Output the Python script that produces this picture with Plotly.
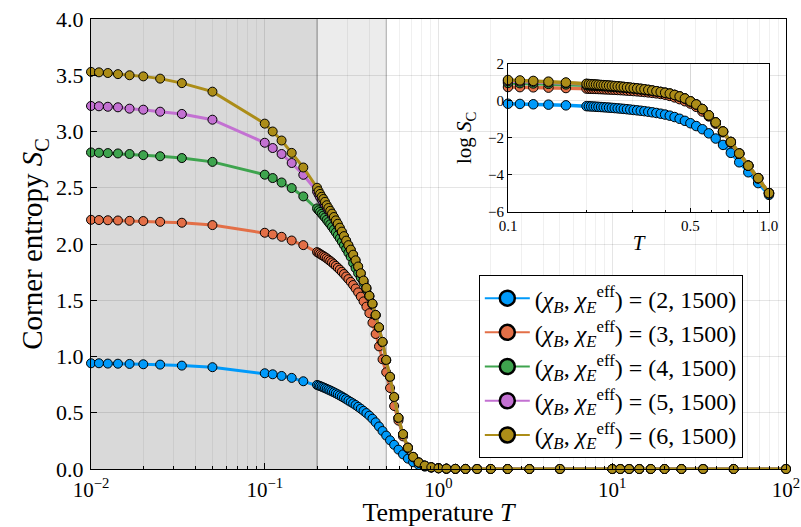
import numpy as np
import plotly.graph_objects as go

# ---------------- data ----------------
T = [0.01, 0.01111, 0.0125, 0.01429, 0.01667, 0.02, 0.025, 0.03333, 0.05,
     0.1, 0.1111, 0.125, 0.1429, 0.1667,
     0.2, 0.2041, 0.2083, 0.2128, 0.2174, 0.2222, 0.2273, 0.2326, 0.2381, 0.2439,
     0.25, 0.2564, 0.2632, 0.2703, 0.2778, 0.2857, 0.2941, 0.3030, 0.3125, 0.3226,
     0.3333, 0.3448, 0.3571, 0.3704, 0.3846, 0.4, 0.4167, 0.4348, 0.4545, 0.4762,
     0.5, 0.5263, 0.5556, 0.5882, 0.625, 0.6667, 0.7143, 0.7692, 0.8333, 0.9091, 1.0,
     1.111, 1.25, 1.429, 1.667, 2.0, 2.5, 3.333, 5.0,
     10.0, 11.11, 12.5, 14.29, 16.67, 20.0, 25.0, 33.33, 50.0, 100.0]

S_high = [0.0030, 0.0013, 0.0005, 0.0002, 0.0001, 0.00003, 0.00001, 0.0,
          0.0, 0.0, 0.0, 0.0, 0.0, 0.0, 0.0, 0.0, 0.0, 0.0]

S_chi2 = [0.940, 0.940, 0.937, 0.936, 0.934, 0.931, 0.928, 0.919, 0.905,
          0.851, 0.842, 0.827, 0.810, 0.780,
          0.747, 0.742, 0.737, 0.731, 0.725, 0.719, 0.712, 0.705, 0.698, 0.690,
          0.682, 0.673, 0.664, 0.654, 0.644, 0.633, 0.621, 0.608, 0.596, 0.583,
          0.569, 0.553, 0.536, 0.517, 0.497, 0.474, 0.447, 0.415, 0.378, 0.338,
          0.297, 0.255, 0.215, 0.172, 0.130, 0.092, 0.060, 0.036, 0.021, 0.0117, 0.0062] + S_high

S_chi3 = [2.215, 2.213, 2.211, 2.209, 2.206, 2.204, 2.197, 2.189, 2.168,
          2.100, 2.085, 2.064, 2.031, 1.990,
          1.928, 1.920, 1.911, 1.902, 1.893, 1.884, 1.873, 1.861, 1.849, 1.836,
          1.821, 1.806, 1.789, 1.772, 1.753, 1.733, 1.711, 1.688, 1.663, 1.635,
          1.604, 1.570, 1.532, 1.490, 1.443, 1.385, 1.300, 1.200, 1.090, 0.975,
          0.860, 0.720, 0.560, 0.430, 0.290, 0.183, 0.104, 0.057, 0.030, 0.0152, 0.0068] + S_high

S_chi4 = [2.814, 2.811, 2.808, 2.805, 2.800, 2.790, 2.780, 2.764, 2.730,
          2.616, 2.586, 2.547, 2.497, 2.423,
          2.316, 2.300, 2.285, 2.268, 2.252, 2.235, 2.215, 2.195, 2.175, 2.152,
          2.128, 2.103, 2.077, 2.050, 2.020, 1.990, 1.957, 1.922, 1.885, 1.830,
          1.785, 1.740, 1.700, 1.655, 1.600, 1.533, 1.463, 1.365, 1.255, 1.125,
          0.966, 0.817, 0.638, 0.453, 0.309, 0.190, 0.108, 0.058, 0.030, 0.0152, 0.0068] + S_high

S_chi5 = [3.227, 3.224, 3.220, 3.215, 3.203, 3.194, 3.176, 3.156, 3.105,
          2.900, 2.853, 2.800, 2.720, 2.615,
          2.467, 2.440, 2.415, 2.393, 2.370, 2.350, 2.325, 2.300, 2.280, 2.255,
          2.230, 2.200, 2.170, 2.138, 2.104, 2.066, 2.027, 1.987, 1.948, 1.903,
          1.853, 1.798, 1.738, 1.673, 1.608, 1.538, 1.468, 1.368, 1.258, 1.128,
          0.968, 0.818, 0.639, 0.454, 0.310, 0.190, 0.108, 0.058, 0.030, 0.0153, 0.0068] + S_high

S_chi6 = [3.530, 3.526, 3.520, 3.510, 3.500, 3.490, 3.470, 3.430, 3.354,
          3.070, 3.000, 2.920, 2.810, 2.680,
          2.500, 2.470, 2.445, 2.420, 2.400, 2.375, 2.345, 2.320, 2.295, 2.270,
          2.240, 2.210, 2.180, 2.145, 2.110, 2.070, 2.030, 1.990, 1.950, 1.905,
          1.855, 1.800, 1.740, 1.675, 1.610, 1.540, 1.470, 1.370, 1.260, 1.130,
          0.970, 0.820, 0.640, 0.455, 0.310, 0.190, 0.108, 0.058, 0.030, 0.0153, 0.0068] + S_high

chi_B = [2, 3, 4, 5, 6]
chi_E = 1500
series = [S_chi2, S_chi3, S_chi4, S_chi5, S_chi6]
colors = ["#009AFA", "#E36F47", "#3EA44E", "#C371D2", "#AC8D18"]

x_ticks = [0.01, 0.1, 1, 10, 100]
x_ticktext = ["10<sup>−2</sup>", "10<sup>−1</sup>", "10<sup>0</sup>", "10<sup>1</sup>", "10<sup>2</sup>"]
inset_xticks = [0.1, 0.5, 1.0]
inset_xticktext = ["0.1", "0.5", "1.0"]
inset_yticks = [-6, -4, -2, 0, 2]
inset_yticktext = ["−6", "−4", "−2", "0", "2"]

# shaded temperature windows
dark_window = [0.01, 0.2]
light_window = [0.2, 0.5]

# ---------------- figure ----------------
FONT = "Liberation Serif"
fig = go.Figure()

for S, c in zip(series, colors):
    fig.add_trace(go.Scatter(
        x=T, y=S, mode="lines+markers", showlegend=False, cliponaxis=False,
        line=dict(color=c, width=3),
        marker=dict(size=9, color=c, line=dict(color="black", width=1)),
        xaxis="x", yaxis="y"))

for chi, c in zip(chi_B, colors):
    fig.add_trace(go.Scatter(
        x=[None], y=[None], mode="lines+markers",
        name=f"(<i>χ</i><sub><i>B</i></sub>, <i>χ</i><sub><i>E</i></sub><sup>eff</sup>) = ({chi}, {chi_E})",
        line=dict(color=c, width=2),
        marker=dict(size=15, color=c, line=dict(color="black", width=2.5)),
        xaxis="x", yaxis="y"))

T_arr = np.array(T)
mask = (T_arr >= 0.1 - 1e-9) & (T_arr <= 1.0 + 1e-9)
for S, c in zip(series, colors):
    S_arr = np.array(S)
    fig.add_trace(go.Scatter(
        x=T_arr[mask], y=np.log(S_arr[mask]), mode="lines+markers",
        showlegend=False, cliponaxis=False,
        line=dict(color=c, width=3.5),
        marker=dict(size=9.5, color=c, line=dict(color="black", width=1)),
        xaxis="x2", yaxis="y2"))

minor_main = [m * 10.0 ** e for e in (-2, -1, 0, 1) for m in range(2, 10)]
minor_inset = [m / 10 for m in range(2, 10)]

GRID = "rgba(0,0,0,0.10)"
MGRID = "rgba(0,0,0,0.06)"

fig.update_layout(
    width=801, height=527,
    margin=dict(l=91, r=15, t=19, b=58),
    paper_bgcolor="white", plot_bgcolor="white",
    font=dict(family=FONT, color="black", size=22),
    xaxis=dict(
        type="log", range=[-2, 2], domain=[0, 1], anchor="y", automargin=False,
        tickvals=x_ticks, ticktext=x_ticktext, tickfont=dict(size=21),
        ticklabeloverflow="allow",
        ticks="inside", ticklen=6, tickcolor="black", ticklabelstandoff=2,
        showline=True, linecolor="black", linewidth=1, mirror=True,
        showgrid=True, gridcolor=GRID, gridwidth=1, zeroline=False,
        minor=dict(tickvals=minor_main, ticks="inside", ticklen=3, tickcolor="black",
                   showgrid=True, gridcolor=MGRID, gridwidth=1),
        title=dict(text="Temperature <i>T</i>", font=dict(size=26), standoff=6),
    ),
    yaxis=dict(
        range=[0, 4], domain=[0, 1], anchor="x", automargin=False,
        tickvals=[0, 0.5, 1, 1.5, 2, 2.5, 3, 3.5, 4], tickformat=".1f",
        tickfont=dict(size=22), ticklabeloverflow="allow", ticklabelstandoff=2,
        ticks="inside", ticklen=6, tickcolor="black",
        showline=True, linecolor="black", linewidth=1, mirror=True,
        showgrid=True, gridcolor=GRID, gridwidth=1, zeroline=False,
        title=dict(text="Corner entropy <i>S</i><sub>C</sub>", font=dict(size=29), standoff=4),
    ),
    xaxis2=dict(
        type="log", range=[-1, 0], domain=[0.600, 0.9755], anchor="y2", automargin=False,
        tickvals=inset_xticks, ticktext=inset_xticktext, tickfont=dict(size=15),
        ticklabeloverflow="allow",
        ticks="inside", ticklen=4, tickcolor="black",
        showline=True, linecolor="black", linewidth=1, mirror=True,
        showgrid=True, gridcolor=GRID, zeroline=False,
        minor=dict(tickvals=minor_inset, ticks="inside", ticklen=2, tickcolor="black",
                   showgrid=True, gridcolor=MGRID),
        title=dict(text="<i>T</i>", font=dict(size=21), standoff=2),
    ),
    yaxis2=dict(
        range=[-6, 2], domain=[0.5715, 0.9006], anchor="x2", automargin=False,
        tickvals=inset_yticks, ticktext=inset_yticktext, tickfont=dict(size=15),
        ticklabeloverflow="allow",
        ticks="inside", ticklen=4, tickcolor="black",
        showline=True, linecolor="black", linewidth=1, mirror=True,
        showgrid=True, gridcolor=GRID, zeroline=False,
        title=dict(text="log <i>S</i><sub>C</sub>", font=dict(size=21), standoff=10),
    ),
    legend=dict(
        x=0.558, y=0.431, xanchor="left", yanchor="top",
        bgcolor="white", bordercolor="black", borderwidth=1,
        font=dict(size=24, family=FONT), itemwidth=45, tracegroupgap=0,
    ),
    shapes=[
        dict(type="rect", xref="x", yref="y", x0=dark_window[0], x1=dark_window[1], y0=0, y1=4,
             fillcolor="#d9d9d9", line=dict(width=0), layer="below"),
        dict(type="rect", xref="x", yref="y", x0=light_window[0], x1=light_window[1], y0=0, y1=4,
             fillcolor="#ececec", line=dict(width=0), layer="below"),
        dict(type="line", xref="x", yref="y", x0=dark_window[1], x1=dark_window[1], y0=0, y1=4,
             line=dict(color="#8a8a8a", width=1), layer="below"),
        dict(type="line", xref="x", yref="y", x0=light_window[1], x1=light_window[1], y0=0, y1=4,
             line=dict(color="#b0b0b0", width=1), layer="below"),
        dict(type="rect", xref="x2", yref="y2", x0=0.1, x1=1.0, y0=-6, y1=2,
             fillcolor="white", line=dict(width=0), layer="below"),
    ],
)

fig.write_html("out.html")
